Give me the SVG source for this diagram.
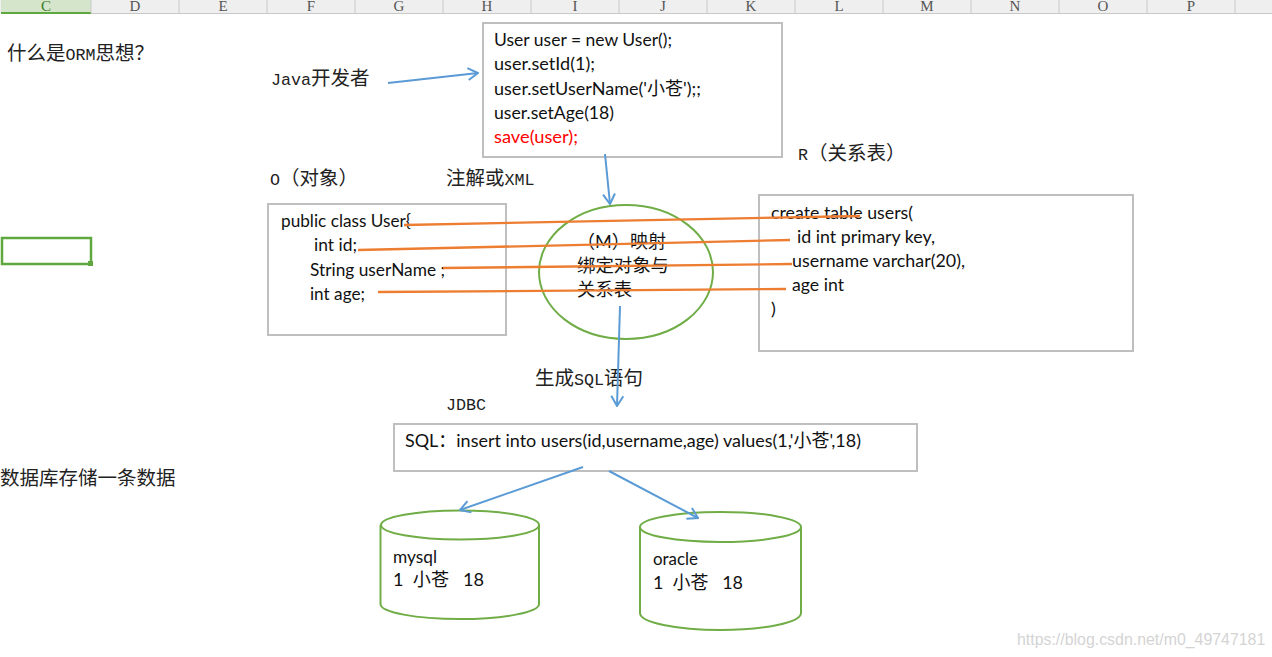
<svg xmlns="http://www.w3.org/2000/svg" width="1272" height="657" viewBox="0 0 1272 657">
<style>
text{white-space:pre}
.s{font-family:"Liberation Mono","Noto Sans CJK SC",monospace;font-size:19.500px;fill:#222}
.s tspan{font-size:16.700px}
.c{font-family:"Lato","Noto Sans CJK SC",sans-serif;font-size:18px;fill:#111}
.h{font-family:"Liberation Serif",serif;font-size:15px;fill:#555;text-anchor:middle}
.box{fill:#fff;stroke:#bfbfbf;stroke-width:2}
.g{fill:#fff;stroke:#70ad47;stroke-width:2}
.o{stroke:#ed7d31;stroke-width:2.300;fill:none}
.b{stroke:#5b9bd5;stroke-width:2;fill:none}
</style>
<defs>
<marker id="a" viewBox="0 0 14 14" refX="13" refY="7" markerWidth="14" markerHeight="14" markerUnits="userSpaceOnUse" orient="auto"><path d="M3 1L13 7L3 13" fill="none" stroke="#5b9bd5" stroke-width="2"/></marker>
</defs>
<rect width="1272" height="657" fill="#fff"/>
<g id="sheet-header">
<rect width="1272" height="13" fill="#efefef"/>
<rect x="1" width="90" height="13" fill="#d5e5cb"/>
<rect x="1" y="12" width="90" height="2" fill="#5fa83f"/>
<text class="h" x="46" y="11" style="fill:#3b7d23">C</text>
<text class="h" x="135" y="11">D</text><text class="h" x="223" y="11">E</text><text class="h" x="311" y="11">F</text><text class="h" x="399" y="11">G</text><text class="h" x="487" y="11">H</text><text class="h" x="575" y="11">I</text><text class="h" x="663" y="11">J</text><text class="h" x="751" y="11">K</text><text class="h" x="839" y="11">L</text><text class="h" x="927" y="11">M</text><text class="h" x="1015" y="11">N</text><text class="h" x="1103" y="11">O</text><text class="h" x="1191" y="11">P</text>
<path d="M91 0V13M179 0V13M267 0V13M355 0V13M443 0V13M531 0V13M619 0V13M707 0V13M795 0V13M883 0V13M971 0V13M1059 0V13M1147 0V13M1235 0V13M91 13.500H1272" stroke="#c8c8c8" fill="none"/>
</g>
<g id="selected-cell"><rect x="2" y="238" width="89" height="26" fill="none" stroke="#5fa83f" stroke-width="2.500"/><rect x="88" y="261" width="5" height="5" fill="#5fa83f"/></g>
<g id="label-orm"><text class="s" x="7" y="60">什么是<tspan>ORM</tspan>思想？</text></g>
<g id="label-java"><text class="s" x="271" y="85"><tspan>Java</tspan>开发者</text></g>
<g id="label-o"><text class="s" x="270" y="185"><tspan>O</tspan>（对象）</text></g>
<g id="label-annot"><text class="s" x="446" y="185">注解或<tspan>XML</tspan></text></g>
<g id="label-r"><text class="s" x="798" y="160"><tspan>R</tspan>（关系表）</text></g>
<g id="label-gen"><text class="s" x="535" y="385">生成<tspan>SQL</tspan>语句</text></g>
<g id="label-jdbc"><text class="s" x="446" y="410"><tspan>JDBC</tspan></text></g>
<g id="label-db"><text class="s" x="0" y="485">数据库存储一条数据</text></g>
<g id="node-user-code">
<rect class="box" x="483" y="23" width="299" height="134"/>
<text class="c" x="494" y="46" textLength="178" lengthAdjust="spacingAndGlyphs">User user = new User();</text>
<text class="c" x="494" y="70" textLength="101" lengthAdjust="spacingAndGlyphs">user.setId(1);</text>
<text class="c" x="494" y="95" textLength="207" lengthAdjust="spacingAndGlyphs">user.setUserName('小苍');;</text>
<text class="c" x="494" y="119" textLength="120" lengthAdjust="spacingAndGlyphs">user.setAge(18)</text>
<text class="c" x="494" y="143" textLength="84" lengthAdjust="spacingAndGlyphs" style="fill:#f00">save(user);</text>
</g>
<g id="node-class">
<rect class="box" x="268" y="204" width="238" height="131"/>
<text class="c" x="281" y="227" textLength="130" lengthAdjust="spacingAndGlyphs">public class User{</text>
<text class="c" x="314" y="251" textLength="43" lengthAdjust="spacingAndGlyphs">int id;</text>
<text class="c" x="310" y="276" textLength="135" lengthAdjust="spacingAndGlyphs">String userName ;</text>
<text class="c" x="310" y="300" textLength="55" lengthAdjust="spacingAndGlyphs">int age;</text>
</g>
<g id="node-mapping">
<ellipse class="g" cx="626" cy="272" rx="87" ry="67"/>
<text class="c" x="577" y="248" textLength="89" lengthAdjust="spacingAndGlyphs">（M）映射</text>
<text class="c" x="577" y="272" textLength="92" lengthAdjust="spacingAndGlyphs">绑定对象与</text>
<text class="c" x="577" y="296" textLength="55" lengthAdjust="spacingAndGlyphs">关系表</text>
</g>
<g id="node-table">
<rect class="box" x="759" y="195" width="374" height="156"/>
<text class="c" x="771" y="219" textLength="142" lengthAdjust="spacingAndGlyphs">create table users(</text>
<text class="c" x="797" y="243" textLength="138" lengthAdjust="spacingAndGlyphs">id int primary key,</text>
<text class="c" x="792" y="267" textLength="173" lengthAdjust="spacingAndGlyphs">username varchar(20),</text>
<text class="c" x="792" y="291" textLength="52" lengthAdjust="spacingAndGlyphs">age int</text>
<text class="c" x="771" y="315">)</text>
</g>
<g id="node-sql">
<rect class="box" x="394" y="424" width="523" height="47"/>
<text class="c" x="405" y="447" textLength="456" lengthAdjust="spacingAndGlyphs">SQL：insert into users(id,username,age) values(1,'小苍',18)</text>
</g>
<g id="node-mysql">
<path class="g" d="M380.500 525V604A79 15 0 0 0 539 604V525"/>
<ellipse class="g" cx="460" cy="525" rx="79" ry="14.500"/>
<text class="c" x="393" y="563" textLength="44" lengthAdjust="spacingAndGlyphs">mysql</text>
<text class="c" x="393" y="586" textLength="91" lengthAdjust="spacingAndGlyphs">1  小苍   18</text>
</g>
<g id="node-oracle">
<path class="g" d="M640 527V613A80.500 17 0 0 0 801 613V527"/>
<ellipse class="g" cx="720.500" cy="527" rx="80.500" ry="15"/>
<text class="c" x="653" y="565" textLength="45" lengthAdjust="spacingAndGlyphs">oracle</text>
<text class="c" x="653" y="589" textLength="90" lengthAdjust="spacingAndGlyphs">1  小苍   18</text>
</g>
<g id="connectors">
<path class="b" d="M388 83L478 73" marker-end="url(#a)"/>
<path class="b" d="M605 154L610 204" marker-end="url(#a)"/>
<path class="b" d="M620 306L617 406" marker-end="url(#a)"/>
<path class="b" d="M583 467L460 510" marker-end="url(#a)"/>
<path class="b" d="M609 471L698 518" marker-end="url(#a)"/>
<path class="o" d="M404 225L860 216"/>
<path class="o" d="M358 250L790 240"/>
<path class="o" d="M443 268L792 264"/>
<path class="o" d="M378 292L786 289"/>
</g>
<g id="watermark"><text x="1017" y="645" style="font-family:'Liberation Sans',sans-serif;font-size:15.900px;fill:#d4d4d4">https://blog.csdn.net/m0_49747181</text></g>
</svg>
